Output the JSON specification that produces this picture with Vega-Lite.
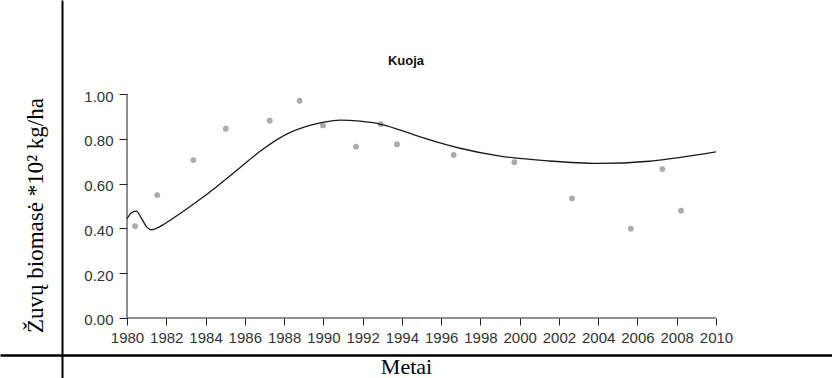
{
  "$schema": "https://vega.github.io/schema/vega-lite/v6.json",
  "width": 832,
  "height": 378,
  "autosize": {"type": "none"},
  "padding": 0,
  "background": "white",
  "config": {"view": {"stroke": null}},
  "title": {"text": "Kuoja", "orient": "top", "anchor": "middle", "frame": "group", "offset": -78, "baseline": "alphabetic", "dx": -10, "font": "Liberation Sans", "fontSize": 13, "fontWeight": "bold", "color": "#111"},
  "datasets": {
    "obs": [
      {"year": 1980.41, "value": 0.41},
      {"year": 1981.54, "value": 0.549},
      {"year": 1983.38, "value": 0.705},
      {"year": 1985.03, "value": 0.845},
      {"year": 1987.27, "value": 0.881},
      {"year": 1988.79, "value": 0.97},
      {"year": 1989.98, "value": 0.86},
      {"year": 1991.66, "value": 0.765},
      {"year": 1992.92, "value": 0.866},
      {"year": 1993.75, "value": 0.776},
      {"year": 1996.64, "value": 0.728},
      {"year": 1999.73, "value": 0.696},
      {"year": 2002.67, "value": 0.534},
      {"year": 2005.66, "value": 0.399},
      {"year": 2007.27, "value": 0.665},
      {"year": 2008.22, "value": 0.479}
    ],
    "trend": [
      {"year": 1980.0, "value": 0.443},
      {"year": 1980.2, "value": 0.468},
      {"year": 1980.47, "value": 0.477},
      {"year": 1980.75, "value": 0.443},
      {"year": 1981.0, "value": 0.407},
      {"year": 1981.26, "value": 0.394},
      {"year": 1981.55, "value": 0.402},
      {"year": 1981.9, "value": 0.42},
      {"year": 1982.8, "value": 0.472},
      {"year": 1983.6, "value": 0.522},
      {"year": 1984.5, "value": 0.582},
      {"year": 1985.3, "value": 0.638},
      {"year": 1986.1, "value": 0.697},
      {"year": 1986.9, "value": 0.752},
      {"year": 1987.7, "value": 0.8},
      {"year": 1988.4, "value": 0.832},
      {"year": 1989.1, "value": 0.855},
      {"year": 1989.9, "value": 0.872},
      {"year": 1990.85, "value": 0.884},
      {"year": 1991.87, "value": 0.879},
      {"year": 1992.89, "value": 0.866},
      {"year": 1993.9, "value": 0.84},
      {"year": 1994.9, "value": 0.81},
      {"year": 1995.94, "value": 0.782},
      {"year": 1996.96, "value": 0.758},
      {"year": 1999.0, "value": 0.723},
      {"year": 2001.5, "value": 0.701},
      {"year": 2004.0, "value": 0.69},
      {"year": 2006.6, "value": 0.7},
      {"year": 2008.8, "value": 0.725},
      {"year": 2010.0, "value": 0.742}
    ]
  },
  "resolve": {"axis": {"x": "independent", "y": "independent"}},
  "layer": [
    {
      "data": {"name": "obs"},
      "mark": {"type": "point", "filled": true, "size": 34, "color": "#ababab", "opacity": 1},
      "encoding": {
        "x": {"field": "year", "type": "quantitative",
              "scale": {"domain": [1973.53, 2015.91], "nice": false, "zero": false},
              "axis": {"orient": "bottom", "offset": -60, "values": [1980, 1982, 1984, 1986, 1988, 1990, 1992, 1994, 1996, 1998, 2000, 2002, 2004, 2006, 2008, 2010],
                       "format": "d", "domain": false, "grid": false, "ticks": true, "tickSize": 7, "tickColor": "#222", "tickWidth": 1,
                       "labelFont": "'Liberation Sans Narrow', 'Liberation Sans'", "labelFontSize": 15, "labelColor": "#333", "labelPadding": 5, "labelFlush": false, "labelOverlap": false, "title": null}},
        "y": {"field": "value", "type": "quantitative",
              "scale": {"domain": [-0.268, 1.42], "nice": false, "zero": false},
              "axis": {"orient": "left", "offset": -127, "values": [0, 0.2, 0.4, 0.6, 0.8, 1.0],
                       "format": ".2f", "domain": false, "grid": false, "ticks": true, "tickSize": 8, "tickColor": "#222", "tickWidth": 1,
                       "labelFont": "'Liberation Sans Narrow', 'Liberation Sans'", "labelFontSize": 15, "labelColor": "#333", "labelPadding": 6, "labelOffset": 2, "labelFlush": false, "labelOverlap": false, "title": null}}
      }
    },
    {
      "data": {"name": "trend"},
      "mark": {"type": "line", "interpolate": "monotone", "color": "#1a1a1a", "strokeWidth": 1.3},
      "encoding": {
        "x": {"field": "year", "type": "quantitative",
              "axis": {"orient": "bottom", "offset": -23, "domain": true, "domainColor": "#000", "domainWidth": 2.5, "ticks": false, "labels": false, "grid": false,
                       "title": "Metai", "titleFont": "Liberation Serif", "titleFontSize": 22, "titleFontWeight": "normal", "titleColor": "#000", "titlePadding": 18, "titleBaseline": "alphabetic", "titleX": 406}},
        "y": {"field": "value", "type": "quantitative",
              "axis": {"orient": "left", "offset": -62, "domain": true, "domainColor": "#000", "domainWidth": 2, "ticks": false, "labels": false, "grid": false,
                       "title": "Žuvų biomasė *10² kg/ha", "titleFont": "Liberation Serif", "titleFontSize": 23, "titleFontWeight": "normal", "titleColor": "#000", "titlePadding": 20, "titleBaseline": "alphabetic", "titleY": 215}}
      }
    },
    {
      "data": {"values": [{}]},
      "mark": {"type": "rule", "color": "#222", "strokeWidth": 1},
      "encoding": {"x": {"datum": 1980, "axis": null}, "x2": {"datum": 2010}, "y": {"datum": 0, "axis": null}}
    },
    {
      "data": {"values": [{}]},
      "mark": {"type": "rule", "color": "#222", "strokeWidth": 1},
      "encoding": {"x": {"datum": 1980, "axis": null}, "y": {"datum": 0, "axis": null}, "y2": {"datum": 1}}
    }
  ]
}
